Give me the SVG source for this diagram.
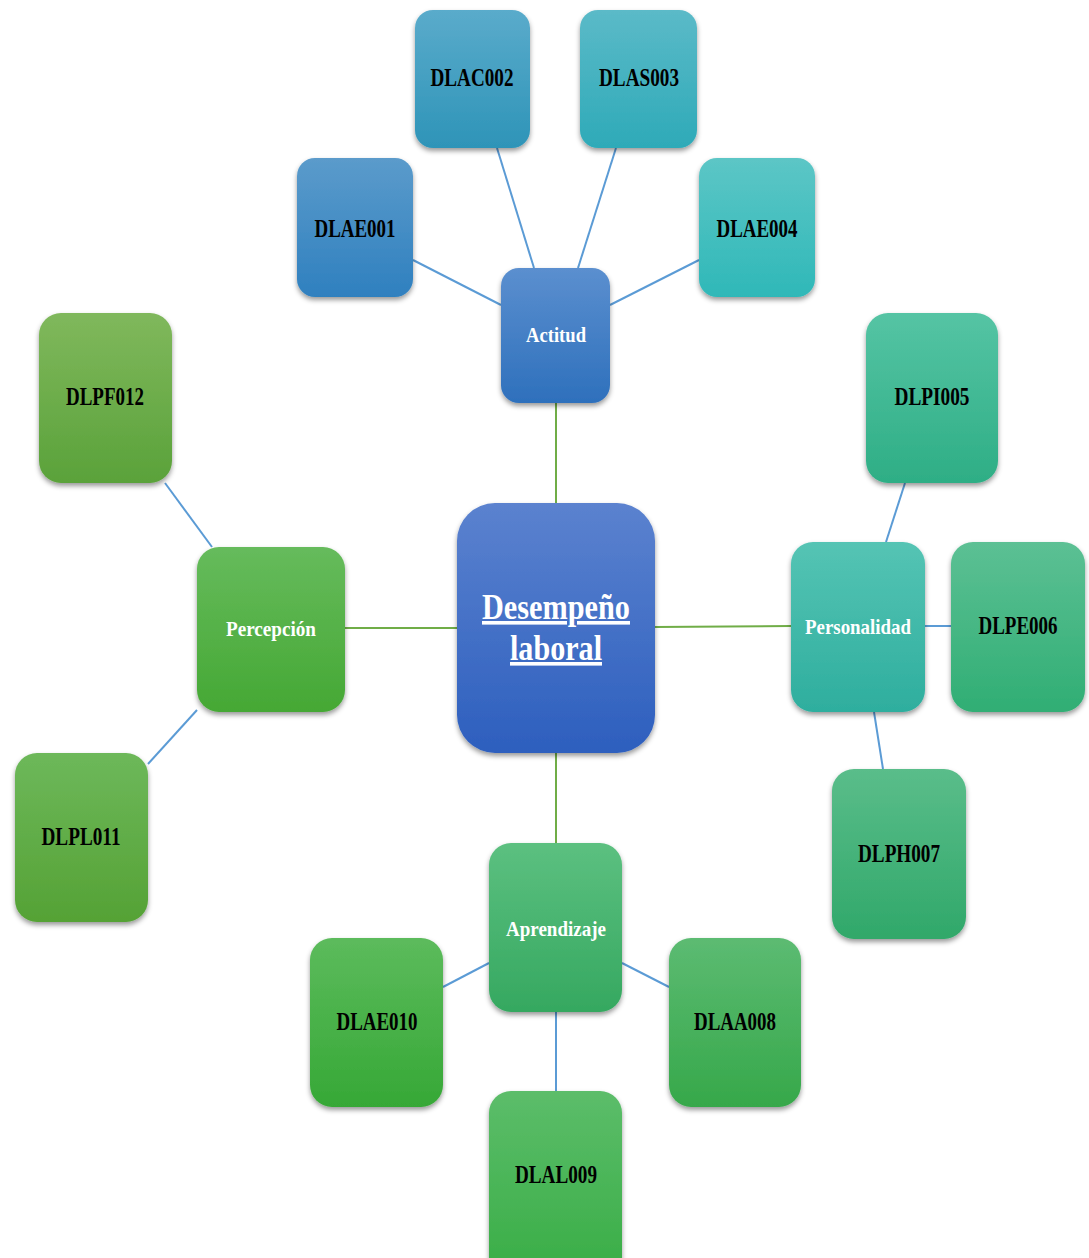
<svg xmlns="http://www.w3.org/2000/svg" width="1089" height="1258" viewBox="0 0 1089 1258">
<style>
.lbl{font-family:"Liberation Serif","Times New Roman",serif;font-weight:bold;font-size:25px;fill:#000;text-anchor:middle}
.cat{font-family:"Liberation Serif","Times New Roman",serif;font-weight:bold;font-size:21px;fill:#fff;text-anchor:middle}
.main{font-family:"Liberation Serif","Times New Roman",serif;font-weight:bold;font-size:36px;fill:#fff;text-anchor:middle;text-decoration:underline}
.box{filter:url(#sh)}
.cb{stroke:#5b9bd5;stroke-width:2;fill:none}
.cg{stroke:#70ad47;stroke-width:2;fill:none}
</style>
<defs>
<filter id="sh" x="-20%" y="-20%" width="140%" height="140%"><feDropShadow dx="0" dy="3" stdDeviation="2.5" flood-color="#000" flood-opacity="0.4"/></filter>
<linearGradient id="gC" x1="0" y1="0" x2="0" y2="1"><stop offset="0" stop-color="#5b82cf"/><stop offset="1" stop-color="#2d5fbe"/></linearGradient>
<linearGradient id="gAct" x1="0" y1="0" x2="0" y2="1"><stop offset="0" stop-color="#5b8fcf"/><stop offset="1" stop-color="#2e70bc"/></linearGradient>
<linearGradient id="g1" x1="0" y1="0" x2="0" y2="1"><stop offset="0" stop-color="#5b9bcb"/><stop offset="1" stop-color="#2f80bf"/></linearGradient>
<linearGradient id="g2" x1="0" y1="0" x2="0" y2="1"><stop offset="0" stop-color="#5aabcb"/><stop offset="1" stop-color="#2e94b8"/></linearGradient>
<linearGradient id="g3" x1="0" y1="0" x2="0" y2="1"><stop offset="0" stop-color="#5bbac8"/><stop offset="1" stop-color="#2eaab8"/></linearGradient>
<linearGradient id="g4" x1="0" y1="0" x2="0" y2="1"><stop offset="0" stop-color="#5cc6c6"/><stop offset="1" stop-color="#2fb8b8"/></linearGradient>
<linearGradient id="gPer" x1="0" y1="0" x2="0" y2="1"><stop offset="0" stop-color="#55c4b4"/><stop offset="1" stop-color="#2eae9e"/></linearGradient>
<linearGradient id="g5" x1="0" y1="0" x2="0" y2="1"><stop offset="0" stop-color="#55c4a4"/><stop offset="1" stop-color="#2eae85"/></linearGradient>
<linearGradient id="g6" x1="0" y1="0" x2="0" y2="1"><stop offset="0" stop-color="#5cc094"/><stop offset="1" stop-color="#30ae74"/></linearGradient>
<linearGradient id="g7" x1="0" y1="0" x2="0" y2="1"><stop offset="0" stop-color="#5abd8a"/><stop offset="1" stop-color="#30a86a"/></linearGradient>
<linearGradient id="gApr" x1="0" y1="0" x2="0" y2="1"><stop offset="0" stop-color="#5cc080"/><stop offset="1" stop-color="#35a860"/></linearGradient>
<linearGradient id="g8" x1="0" y1="0" x2="0" y2="1"><stop offset="0" stop-color="#5cbb72"/><stop offset="1" stop-color="#36a84a"/></linearGradient>
<linearGradient id="g9" x1="0" y1="0" x2="0" y2="1"><stop offset="0" stop-color="#5cbd6a"/><stop offset="1" stop-color="#38ad45"/></linearGradient>
<linearGradient id="g10" x1="0" y1="0" x2="0" y2="1"><stop offset="0" stop-color="#5cbb5c"/><stop offset="1" stop-color="#36a836"/></linearGradient>
<linearGradient id="gPc" x1="0" y1="0" x2="0" y2="1"><stop offset="0" stop-color="#66bb5c"/><stop offset="1" stop-color="#45a834"/></linearGradient>
<linearGradient id="g11" x1="0" y1="0" x2="0" y2="1"><stop offset="0" stop-color="#6db85a"/><stop offset="1" stop-color="#55a235"/></linearGradient>
<linearGradient id="g12" x1="0" y1="0" x2="0" y2="1"><stop offset="0" stop-color="#80b85c"/><stop offset="1" stop-color="#5aa23a"/></linearGradient>
</defs>
<rect width="1089" height="1258" fill="#fff"/>
<g id="connectors">
<line class="cg" x1="556" y1="403" x2="556" y2="503"/>
<line class="cg" x1="345" y1="628" x2="457" y2="628"/>
<line class="cg" x1="655" y1="627" x2="791" y2="626"/>
<line class="cg" x1="556" y1="753" x2="556" y2="843"/>
<line class="cb" x1="413" y1="260" x2="501" y2="305"/>
<line class="cb" x1="497" y1="148" x2="534" y2="268"/>
<line class="cb" x1="616" y1="148" x2="578" y2="268"/>
<line class="cb" x1="699" y1="260" x2="610" y2="305"/>
<line class="cb" x1="165" y1="483" x2="212" y2="547"/>
<line class="cb" x1="197" y1="710" x2="148" y2="764"/>
<line class="cb" x1="905" y1="483" x2="886" y2="542"/>
<line class="cb" x1="925" y1="626" x2="951" y2="626"/>
<line class="cb" x1="874" y1="712" x2="883" y2="769"/>
<line class="cb" x1="489" y1="963" x2="443" y2="987"/>
<line class="cb" x1="622" y1="963" x2="669" y2="987"/>
<line class="cb" x1="556" y1="1012" x2="556" y2="1091"/>
</g>
<g id="center"><rect class="box" x="457" y="503" width="198" height="250" rx="38" fill="url(#gC)"/>
<text class="main" x="556" y="619" textLength="148" lengthAdjust="spacingAndGlyphs">Desempeño</text>
<text class="main" x="556" y="660" textLength="92" lengthAdjust="spacingAndGlyphs">laboral</text></g>
<g id="actitud"><rect class="box" x="501" y="268" width="109" height="135" rx="18" fill="url(#gAct)"/><text class="cat" x="556" y="342" textLength="60" lengthAdjust="spacingAndGlyphs">Actitud</text></g>
<g id="dlae001"><rect class="box" x="297" y="158" width="116" height="139" rx="18" fill="url(#g1)"/><text class="lbl" x="355" y="237" textLength="81" lengthAdjust="spacingAndGlyphs">DLAE001</text></g>
<g id="dlac002"><rect class="box" x="415" y="10" width="115" height="138" rx="18" fill="url(#g2)"/><text class="lbl" x="472" y="86" textLength="83" lengthAdjust="spacingAndGlyphs">DLAC002</text></g>
<g id="dlas003"><rect class="box" x="580" y="10" width="117" height="138" rx="18" fill="url(#g3)"/><text class="lbl" x="639" y="86" textLength="80" lengthAdjust="spacingAndGlyphs">DLAS003</text></g>
<g id="dlae004"><rect class="box" x="699" y="158" width="116" height="139" rx="18" fill="url(#g4)"/><text class="lbl" x="757" y="237" textLength="81" lengthAdjust="spacingAndGlyphs">DLAE004</text></g>
<g id="personalidad"><rect class="box" x="791" y="542" width="134" height="170" rx="22" fill="url(#gPer)"/><text class="cat" x="858" y="634" textLength="106" lengthAdjust="spacingAndGlyphs">Personalidad</text></g>
<g id="dlpi005"><rect class="box" x="866" y="313" width="132" height="170" rx="22" fill="url(#g5)"/><text class="lbl" x="932" y="405" textLength="75" lengthAdjust="spacingAndGlyphs">DLPI005</text></g>
<g id="dlpe006"><rect class="box" x="951" y="542" width="134" height="170" rx="22" fill="url(#g6)"/><text class="lbl" x="1018" y="634" textLength="79" lengthAdjust="spacingAndGlyphs">DLPE006</text></g>
<g id="dlph007"><rect class="box" x="832" y="769" width="134" height="170" rx="22" fill="url(#g7)"/><text class="lbl" x="899" y="862" textLength="82" lengthAdjust="spacingAndGlyphs">DLPH007</text></g>
<g id="aprendizaje"><rect class="box" x="489" y="843" width="133" height="169" rx="22" fill="url(#gApr)"/><text class="cat" x="556" y="936" textLength="100" lengthAdjust="spacingAndGlyphs">Aprendizaje</text></g>
<g id="dlaa008"><rect class="box" x="669" y="938" width="132" height="169" rx="22" fill="url(#g8)"/><text class="lbl" x="735" y="1030" textLength="82" lengthAdjust="spacingAndGlyphs">DLAA008</text></g>
<g id="dlal009"><rect class="box" x="489" y="1091" width="133" height="190" rx="22" fill="url(#g9)"/><text class="lbl" x="556" y="1183" textLength="82" lengthAdjust="spacingAndGlyphs">DLAL009</text></g>
<g id="dlae010"><rect class="box" x="310" y="938" width="133" height="169" rx="22" fill="url(#g10)"/><text class="lbl" x="377" y="1030" textLength="81" lengthAdjust="spacingAndGlyphs">DLAE010</text></g>
<g id="percepcion"><rect class="box" x="197" y="547" width="148" height="165" rx="22" fill="url(#gPc)"/><text class="cat" x="271" y="636" textLength="90" lengthAdjust="spacingAndGlyphs">Percepción</text></g>
<g id="dlpl011"><rect class="box" x="15" y="753" width="133" height="169" rx="22" fill="url(#g11)"/><text class="lbl" x="81" y="845" textLength="79" lengthAdjust="spacingAndGlyphs">DLPL011</text></g>
<g id="dlpf012"><rect class="box" x="39" y="313" width="133" height="170" rx="22" fill="url(#g12)"/><text class="lbl" x="105" y="405" textLength="78" lengthAdjust="spacingAndGlyphs">DLPF012</text></g>
</svg>
